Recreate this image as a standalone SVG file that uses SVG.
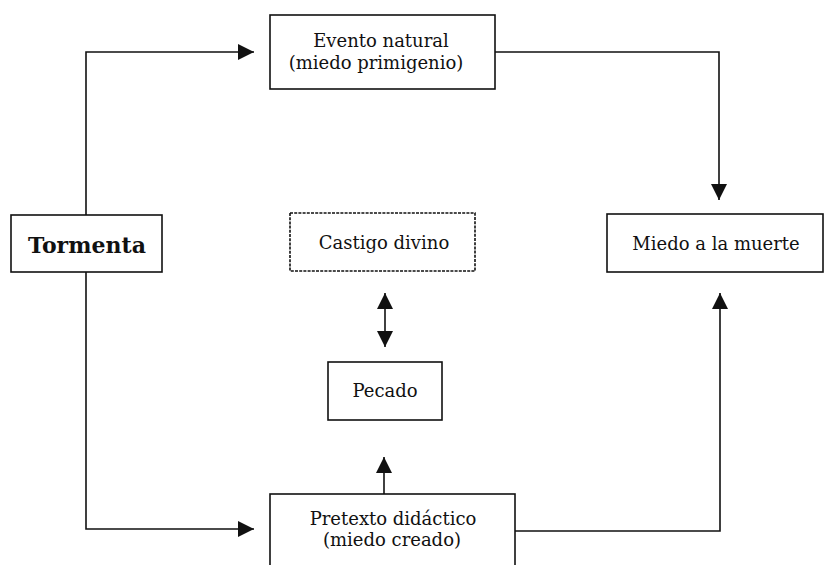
<svg xmlns="http://www.w3.org/2000/svg" width="824" height="565" viewBox="0 0 824 565">
<style>
.box{fill:#fff;stroke:#111;stroke-width:1.6}
.dot{stroke-dasharray:3 1.2}
.ln{fill:none;stroke:#111;stroke-width:1.6}
text{font-family:"DejaVu Serif","Liberation Serif",serif;font-size:18px;fill:#111;text-anchor:middle}
.b{font-weight:bold;font-size:22px}
</style>
<defs>
<marker id="ah" viewBox="0 0 16 16" refX="16" refY="8" markerWidth="16" markerHeight="16" markerUnits="userSpaceOnUse" orient="auto-start-reverse">
<path d="M0,0 L16,8 L0,16 Z" fill="#111"/>
</marker>
</defs>
<g id="connectors">
<path class="ln" d="M86,215 V52 H254" marker-end="url(#ah)"/>
<path class="ln" d="M495,52 H719 V200" marker-end="url(#ah)"/>
<path class="ln" d="M86,272 V529 H254" marker-end="url(#ah)"/>
<path class="ln" d="M515,531 H720 V293" marker-end="url(#ah)"/>
<path class="ln" d="M385,293 V347" marker-start="url(#ah)" marker-end="url(#ah)"/>
<path class="ln" d="M384,494 V457" marker-end="url(#ah)"/>
</g>
<g id="evento">
<rect class="box" x="270" y="15" width="225" height="74"/>
<text x="381" y="47">Evento natural</text>
<text x="376" y="69">(miedo primigenio)</text>
</g>
<g id="tormenta">
<rect class="box" x="11" y="215" width="151" height="57"/>
<text class="b" x="87" y="253">Tormenta</text>
</g>
<g id="castigo">
<rect class="box dot" x="290" y="213" width="185" height="58"/>
<text x="384" y="249">Castigo divino</text>
</g>
<g id="miedo">
<rect class="box" x="607" y="214" width="216" height="58"/>
<text x="716" y="250">Miedo a la muerte</text>
</g>
<g id="pecado">
<rect class="box" x="328" y="362" width="114" height="58"/>
<text x="385" y="397">Pecado</text>
</g>
<g id="pretexto">
<rect class="box" x="270" y="494" width="245" height="80"/>
<text x="393" y="525">Pretexto didáctico</text>
<text x="392" y="546">(miedo creado)</text>
</g>
</svg>
